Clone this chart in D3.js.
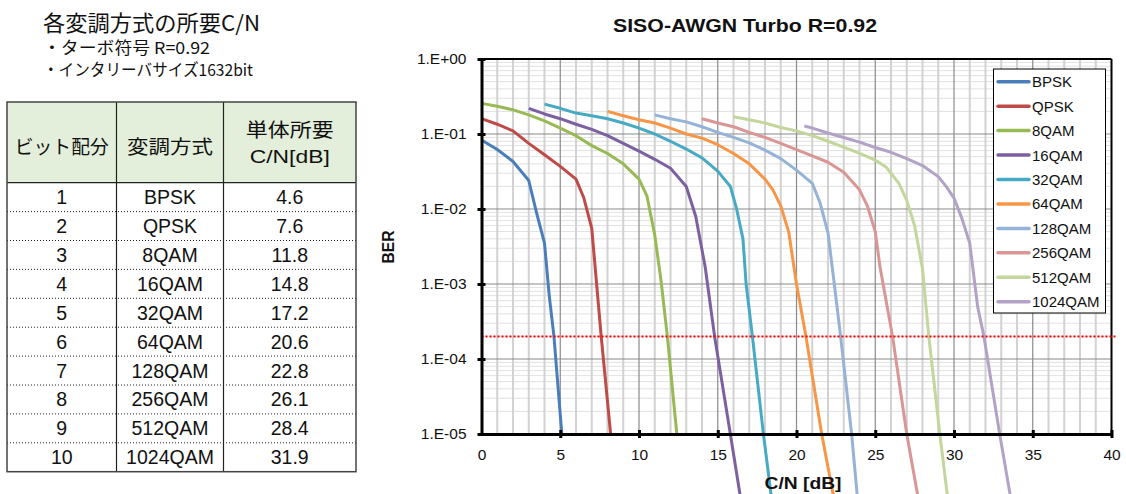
<!DOCTYPE html>
<html>
<head>
<meta charset="utf-8">
<script src="https://cdn.jsdelivr.net/npm/d3@7"></script>
<style>
  html, body { margin: 0; padding: 0; background: #fff; }
  svg { display: block; }
</style>
</head>
<body>
<svg id="c" width="1126" height="494"></svg>
<script>
// ---------- DATA ----------
const headerTitle = "各変調方式の所要C/N";
const headerNotes = ["・ターボ符号 R=0.92", "・インタリーバサイズ1632bit"];
const tableHead = ["ビット配分", "変調方式", "単体所要", "C/N[dB]"];
const bitAlloc = [1, 2, 3, 4, 5, 6, 7, 8, 9, 10];
const modNames = ["BPSK", "QPSK", "8QAM", "16QAM", "32QAM", "64QAM", "128QAM", "256QAM", "512QAM", "1024QAM"];
const requiredCN = ["4.6", "7.6", "11.8", "14.8", "17.2", "20.6", "22.8", "26.1", "28.4", "31.9"];

const chartTitle = "SISO-AWGN Turbo R=0.92";
const xTitle = "C/N [dB]";
const yTitle = "BER";
const xTicks = [0, 5, 10, 15, 20, 25, 30, 35, 40];
const yTicks = [1, 1e-1, 1e-2, 1e-3, 1e-4, 1e-5];
const yTickLabels = ["1.E+00", "1.E-01", "1.E-02", "1.E-03", "1.E-04", "1.E-05"];
const targetBER = 2e-4;

// [C/N dB, BER]
const bpsk = [[0,0.083],[1,0.062],[2,0.043],[3,0.024],[3.5,0.0088],[4,0.0035],[4.3,7e-4],[4.6,2e-4],[5.1,1e-5]];
const qpsk = [[0,0.16],[1,0.135],[2,0.11],[3,0.075],[4,0.053],[5,0.037],[6,0.025],[6.5,0.014],[7,0.0055],[7.6,2e-4],[8.2,1e-5]];
const qam8 = [[0,0.256],[1,0.235],[2,0.21],[3,0.18],[4,0.15],[5,0.12],[6,0.095],[7,0.07],[8,0.055],[9,0.04],[10,0.025],[10.5,0.015],[11,0.0045],[11.4,0.0011],[11.8,2e-4],[12.4,1e-5]];
const qam16 = [[3,0.22],[4,0.185],[5,0.16],[6,0.135],[7,0.115],[8,0.095],[9,0.075],[10,0.059],[11,0.046],[12,0.035],[13,0.02],[13.6,0.008],[14.2,0.0017],[14.8,2e-4],[15.8,1e-5],[16.5,1.2e-6]];
const qam32 = [[4,0.25],[5,0.22],[6,0.19],[7,0.175],[8,0.16],[9,0.14],[10,0.12],[11,0.1],[12,0.08],[13,0.063],[14,0.048],[15,0.032],[15.8,0.02],[16.2,0.01],[16.6,0.004],[16.8,0.001],[17.2,2e-4],[17.9,1e-5],[18.5,1e-6]];
const qam64 = [[8,0.2],[9,0.175],[10,0.155],[11,0.14],[12,0.12],[13,0.1],[14,0.088],[15,0.072],[16,0.055],[17,0.04],[18,0.025],[18.5,0.018],[19,0.011],[19.5,0.005],[20,0.001],[20.6,2e-4],[21.6,1e-5],[22.4,1.3e-6]];
const qam128 = [[11,0.18],[12,0.16],[13,0.145],[14,0.125],[15,0.105],[16,0.09],[17,0.076],[18,0.061],[19,0.047],[20,0.033],[21,0.022],[21.5,0.012],[22,0.0048],[22.4,0.001],[22.8,2e-4],[23.5,1e-5],[23.9,1.2e-6]];
const qam256 = [[14,0.16],[15,0.14],[16,0.125],[17,0.105],[18,0.09],[19,0.075],[20,0.062],[21,0.051],[22,0.042],[23,0.031],[24,0.018],[24.5,0.011],[25,0.005],[25.3,0.0017],[26.1,2e-4],[27,1e-5],[27.7,1.5e-6]];
const qam512 = [[16,0.17],[17,0.155],[18,0.14],[19,0.122],[20,0.11],[21,0.095],[22,0.08],[23,0.067],[24,0.055],[25,0.045],[25.7,0.036],[26.5,0.022],[27,0.013],[27.5,0.006],[28,0.0016],[28.4,2e-4],[29.1,1e-5],[29.6,1.4e-6]];
const qam1024 = [[20.5,0.128],[21,0.12],[22,0.103],[23,0.09],[24,0.078],[25,0.066],[26,0.057],[27,0.047],[28,0.038],[29,0.027],[29.5,0.02],[30,0.014],[30.5,0.0075],[31,0.0035],[31.5,5e-4],[31.9,2e-4],[32.9,1e-5],[33.6,1.4e-6]];

const seriesData = [bpsk, qpsk, qam8, qam16, qam32, qam64, qam128, qam256, qam512, qam1024];
const seriesColors = ["#4a7ebb", "#be4b48", "#98b954", "#7d60a0", "#46aac5", "#f79646", "#95b3d7", "#d99694", "#c3d69b", "#b3a2c7"];

// ---------- DRAW ----------
const svg = d3.select("#c");
const jp = "'Noto Sans CJK JP', 'Noto Sans', sans-serif";
const lat = "'Liberation Sans', Arial, sans-serif";

// Left header text
svg.append("text").attr("x", 43).attr("y", 31).attr("font-family", jp).attr("font-size", 21.5).attr("fill", "#111")
  .attr("textLength", 217).attr("lengthAdjust", "spacingAndGlyphs").text(headerTitle);
const noteLens = [167, 210];
headerNotes.forEach((t, i) => {
  svg.append("text").attr("x", 43).attr("y", 54 + i * 22).attr("font-family", jp).attr("font-size", 16.5).attr("fill", "#111")
    .attr("textLength", noteLens[i]).attr("lengthAdjust", "spacingAndGlyphs").text(t);
});

// Table
const tX = [7, 116.5, 223.5, 356];
const tTop = 102, tHeadBot = 182.7, tBot = 471.7;
const rowH = (tBot - tHeadBot) / bitAlloc.length;
const tbl = svg.append("g");
tbl.append("rect").attr("x", tX[0]).attr("y", tTop).attr("width", tX[3] - tX[0]).attr("height", tHeadBot - tTop).attr("fill", "#e3efda");
bitAlloc.slice(1).forEach((_, i) => {
  const yy = tHeadBot + rowH * (i + 1);
  tbl.append("line").attr("x1", tX[0]).attr("x2", tX[3]).attr("y1", yy).attr("y2", yy)
    .attr("stroke", "#222").attr("stroke-width", 1).attr("stroke-dasharray", "1,2");
});
tbl.append("line").attr("x1", tX[0]).attr("x2", tX[3]).attr("y1", tHeadBot).attr("y2", tHeadBot).attr("stroke", "#222").attr("stroke-width", 1.2);
[tX[1], tX[2]].forEach(xx => {
  tbl.append("line").attr("x1", xx).attr("x2", xx).attr("y1", tTop).attr("y2", tBot).attr("stroke", "#222").attr("stroke-width", 1.2);
});
tbl.append("rect").attr("x", tX[0]).attr("y", tTop).attr("width", tX[3] - tX[0]).attr("height", tBot - tTop)
  .attr("fill", "none").attr("stroke", "#444").attr("stroke-width", 1.5);
const cx = [(tX[0] + tX[1]) / 2, (tX[1] + tX[2]) / 2, (tX[2] + tX[3]) / 2];
tbl.append("text").attr("x", cx[0]).attr("y", 154).attr("text-anchor", "middle").attr("font-family", jp).attr("font-size", 19).attr("fill", "#111")
  .attr("textLength", 94).attr("lengthAdjust", "spacingAndGlyphs").text(tableHead[0]);
tbl.append("text").attr("x", cx[1]).attr("y", 154).attr("text-anchor", "middle").attr("font-family", jp).attr("font-size", 19).attr("fill", "#111")
  .attr("textLength", 86).attr("lengthAdjust", "spacingAndGlyphs").text(tableHead[1]);
tbl.append("text").attr("x", cx[2]).attr("y", 137).attr("text-anchor", "middle").attr("font-family", jp).attr("font-size", 19).attr("fill", "#111")
  .attr("textLength", 88).attr("lengthAdjust", "spacingAndGlyphs").text(tableHead[2]);
tbl.append("text").attr("x", cx[2]).attr("y", 163).attr("text-anchor", "middle").attr("font-family", lat).attr("font-size", 18).attr("fill", "#111")
  .attr("textLength", 80).attr("lengthAdjust", "spacingAndGlyphs").text(tableHead[3]);
bitAlloc.forEach((b, i) => {
  const yy = tHeadBot + rowH * i + rowH / 2 + 7;
  [b, modNames[i], requiredCN[i]].forEach((t, j) => {
    tbl.append("text").attr("x", cx[j]).attr("y", yy).attr("text-anchor", "middle").attr("font-family", lat)
      .attr("font-size", 19.5).attr("fill", "#111").text(t);
  });
});

// Chart
const x = d3.scaleLinear().domain([0, 40]).range([481.5, 1111.5]);
const y = d3.scaleLog().domain([1, 1e-5]).range([59, 434]);
const g = svg.append("g");

const minorY = [];
for (let e = 0; e > -5; e--) for (let k = 2; k <= 9; k++) minorY.push(k * Math.pow(10, e - 1));
g.selectAll(".hminor").data(minorY).enter().append("line")
  .attr("x1", x(0)).attr("x2", x(40)).attr("y1", d => y(d)).attr("y2", d => y(d))
  .attr("stroke", "#c4c4c4").attr("stroke-width", 1).attr("stroke-dasharray", "1,1");
const minorX = d3.range(1, 40).filter(v => v % 5 !== 0);
g.selectAll(".vminor").data(minorX).enter().append("line")
  .attr("x1", d => x(d)).attr("x2", d => x(d)).attr("y1", y(1)).attr("y2", y(1e-5))
  .attr("stroke", "#d2d2d2").attr("stroke-width", 2);
g.selectAll(".vmajor").data(xTicks.slice(1, -1)).enter().append("line")
  .attr("x1", d => x(d)).attr("x2", d => x(d)).attr("y1", y(1)).attr("y2", y(1e-5))
  .attr("stroke", "#8a8a8a").attr("stroke-width", 1.2);
g.selectAll(".hmajor").data(yTicks.slice(1, -1)).enter().append("line")
  .attr("x1", x(0)).attr("x2", x(40)).attr("y1", d => y(d)).attr("y2", d => y(d))
  .attr("stroke", "#8a8a8a").attr("stroke-width", 1.2);

g.append("line").attr("x1", x(0)).attr("x2", x(40)).attr("y1", y(1)).attr("y2", y(1)).attr("stroke", "#000").attr("stroke-width", 2);
g.append("line").attr("x1", x(40)).attr("x2", x(40)).attr("y1", y(1)).attr("y2", y(1e-5)).attr("stroke", "#000").attr("stroke-width", 2);

const line = d3.line().x(d => x(d[0])).y(d => y(d[1]));
seriesData.forEach((s, i) => {
  g.append("path").datum(s).attr("d", line).attr("fill", "none")
    .attr("stroke", seriesColors[i]).attr("stroke-width", 3).attr("stroke-linejoin", "round");
});

g.append("line").attr("x1", x(0)).attr("x2", x(40) + 5).attr("y1", y(targetBER)).attr("y2", y(targetBER))
  .attr("stroke", "#ff0000").attr("stroke-width", 2).attr("stroke-dasharray", "2,2");

const yAxis = d3.axisLeft(y).tickValues(yTicks).tickFormat((d, i) => yTickLabels[i]).tickSizeInner(4).tickSizeOuter(0).tickPadding(11);
const ya = g.append("g").attr("transform", `translate(${x(0)},0)`).call(yAxis);
ya.select(".domain").attr("stroke", "#000").attr("stroke-width", 3);
ya.selectAll(".tick line").attr("x1", 4).attr("x2", -4).attr("stroke", "#000").attr("stroke-width", 3);
ya.selectAll("text").attr("font-family", lat).attr("font-size", 15.5).attr("fill", "#111");

const xAxis = d3.axisBottom(x).tickValues(xTicks).tickFormat(d3.format("d")).tickSizeInner(4).tickSizeOuter(0).tickPadding(11);
const xa = g.append("g").attr("transform", `translate(0,${y(1e-5)})`).call(xAxis);
xa.select(".domain").attr("stroke", "#000").attr("stroke-width", 3);
xa.selectAll(".tick line").attr("y1", -4).attr("y2", 4).attr("stroke", "#000").attr("stroke-width", 3);
xa.selectAll(".tick").filter(d => d === 0).select("line").remove();
xa.selectAll("text").attr("font-family", lat).attr("font-size", 15.5).attr("fill", "#111");

svg.append("text").attr("x", 745).attr("y", 32).attr("text-anchor", "middle").attr("font-family", lat)
  .attr("font-weight", "bold").attr("font-size", 18).attr("fill", "#111")
  .attr("textLength", 264).attr("lengthAdjust", "spacingAndGlyphs").text(chartTitle);
svg.append("text").attr("x", 803).attr("y", 489).attr("text-anchor", "middle").attr("font-family", lat)
  .attr("font-weight", "bold").attr("font-size", 17).attr("fill", "#111")
  .attr("textLength", 77).attr("lengthAdjust", "spacingAndGlyphs").text(xTitle);
svg.append("text").attr("transform", "translate(394,247) rotate(-90)").attr("text-anchor", "middle").attr("font-family", lat)
  .attr("font-weight", "bold").attr("font-size", 17).attr("fill", "#111")
  .attr("textLength", 33).attr("lengthAdjust", "spacingAndGlyphs").text(yTitle);

const lg = svg.append("g");
lg.append("rect").attr("x", 993.5).attr("y", 69).attr("width", 112).attr("height", 244)
  .attr("fill", "#fff").attr("stroke", "#000").attr("stroke-width", 1);
modNames.forEach((n, i) => {
  const yy = 81.7 + i * 24.45;
  lg.append("line").attr("x1", 998).attr("x2", 1029).attr("y1", yy).attr("y2", yy)
    .attr("stroke", seriesColors[i]).attr("stroke-width", 3.5).attr("stroke-linecap", "round");
  lg.append("text").attr("x", 1032).attr("y", yy + 5.5).attr("font-family", lat).attr("font-size", 15).attr("fill", "#111").text(n);
});
</script>
</body>
</html>
